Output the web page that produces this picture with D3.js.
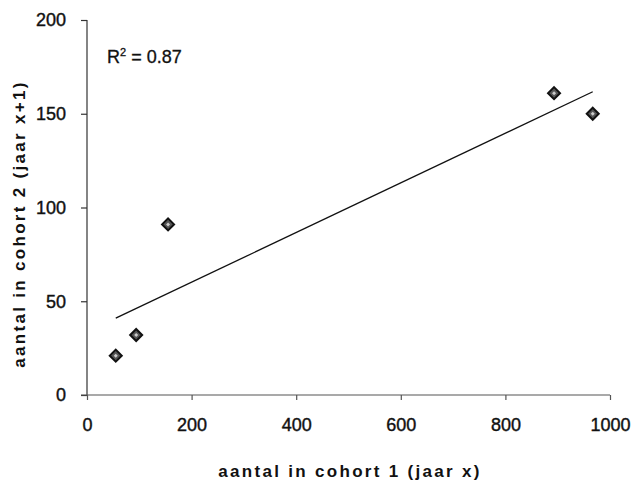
<!DOCTYPE html>
<html lang="nl">
<head>
    <meta charset="UTF-8">
    <title>cohort 1 vs cohort 2</title>
    <script src="https://d3js.org/d3.v7.min.js"></script>
    <style>
        body { margin: 0; background: #fff; }
        svg { display: block; font-family: "Liberation Sans", Arial, sans-serif; }
        .tick text { font-size: 18px; fill: #111; stroke: #111; stroke-width: 0.4px; }
        .axis-title { font-size: 17px; font-weight: bold; letter-spacing: 2.3px; fill: #111; }
    </style>
</head>
<body>
    <div id="chart"></div>
    <script>
        // waarden
        const cohort1 = [55, 94, 155, 893, 967];
        const cohort2 = [21, 32, 91, 161, 150];
        const xTicks = [0, 200, 400, 600, 800, 1000];
        const yTicks = [0, 50, 100, 150, 200];

        const width = 635, height = 488;
        const margin = { left: 87, right: 25, top: 20, bottom: 93 };

        const svg = d3.select("#chart").append("svg")
            .attr("width", width)
            .attr("height", height);

        const x = d3.scaleLinear().domain([0, 1000]).range([margin.left, 610]);
        const y = d3.scaleLinear().domain([0, 200]).range([395, margin.top]);

        // y-as
        const yAxis = svg.append("g")
            .attr("transform", `translate(${margin.left},0)`)
            .call(d3.axisLeft(y).tickValues(yTicks).tickSize(6).tickPadding(15));
        yAxis.selectAll("path, line").attr("stroke", "#333").attr("stroke-width", 1.2);
        yAxis.select(".domain").attr("d", `M0,${y(200)}V${y(0)}`);

        // x-as
        const xAxis = svg.append("g")
            .attr("transform", `translate(0,${y(0)})`)
            .call(d3.axisBottom(x).tickValues(xTicks).tickFormat(d3.format("d")).tickSize(5).tickPadding(18));
        xAxis.selectAll("path, line").attr("stroke", "#555").attr("stroke-width", 1.2);
        xAxis.select(".domain").attr("d", `M${x(0) - 6},0H${x(1000)}`);

        // trendlijn (lineaire regressie)
        const n = cohort1.length;
        const mx = d3.mean(cohort1), my = d3.mean(cohort2);
        let sxy = 0, sxx = 0, syy = 0;
        for (let i = 0; i < n; i++) {
            sxy += (cohort1[i] - mx) * (cohort2[i] - my);
            sxx += (cohort1[i] - mx) ** 2;
            syy += (cohort2[i] - my) ** 2;
        }
        const slope = sxy / sxx;
        const intercept = my - slope * mx;
        const r2 = (sxy * sxy) / (sxx * syy);
        const [x0, x1] = d3.extent(cohort1);

        svg.append("line")
            .attr("x1", x(x0)).attr("y1", y(intercept + slope * x0))
            .attr("x2", x(x1)).attr("y2", y(intercept + slope * x1))
            .attr("stroke", "#111")
            .attr("stroke-width", 1.3);

        // punten
        const pts = svg.append("g").selectAll("g")
            .data(cohort1.map((d, i) => [d, cohort2[i]]))
            .enter().append("g")
            .attr("transform", d => `translate(${x(d[0])},${y(d[1])})`);
        pts.append("path")
            .attr("d", "M0,-6L6,0L0,6L-6,0Z")
            .attr("fill", "#555")
            .attr("stroke", "#111")
            .attr("stroke-width", 2);
        pts.append("path")
            .attr("d", "M0,-2L2,0L0,2L-2,0Z")
            .attr("fill", "#ccc");

        // R² label
        svg.append("text")
            .attr("x", 107).attr("y", 63)
            .attr("font-size", 18)
            .attr("fill", "#111")
            .attr("stroke", "#111")
            .attr("stroke-width", 0.3)
            .html(`R<tspan font-size="11" dy="-7">2</tspan><tspan dy="7"> = ${r2.toFixed(2)}</tspan>`);

        // astitels
        svg.append("text")
            .attr("class", "axis-title")
            .attr("x", 350).attr("y", 477)
            .attr("text-anchor", "middle")
            .text("aantal in cohort 1 (jaar x)");

        svg.append("text")
            .attr("class", "axis-title")
            .attr("transform", "translate(25,224) rotate(-90)")
            .attr("text-anchor", "middle")
            .text("aantal in cohort 2 (jaar x+1)");
    </script>
</body>
</html>
